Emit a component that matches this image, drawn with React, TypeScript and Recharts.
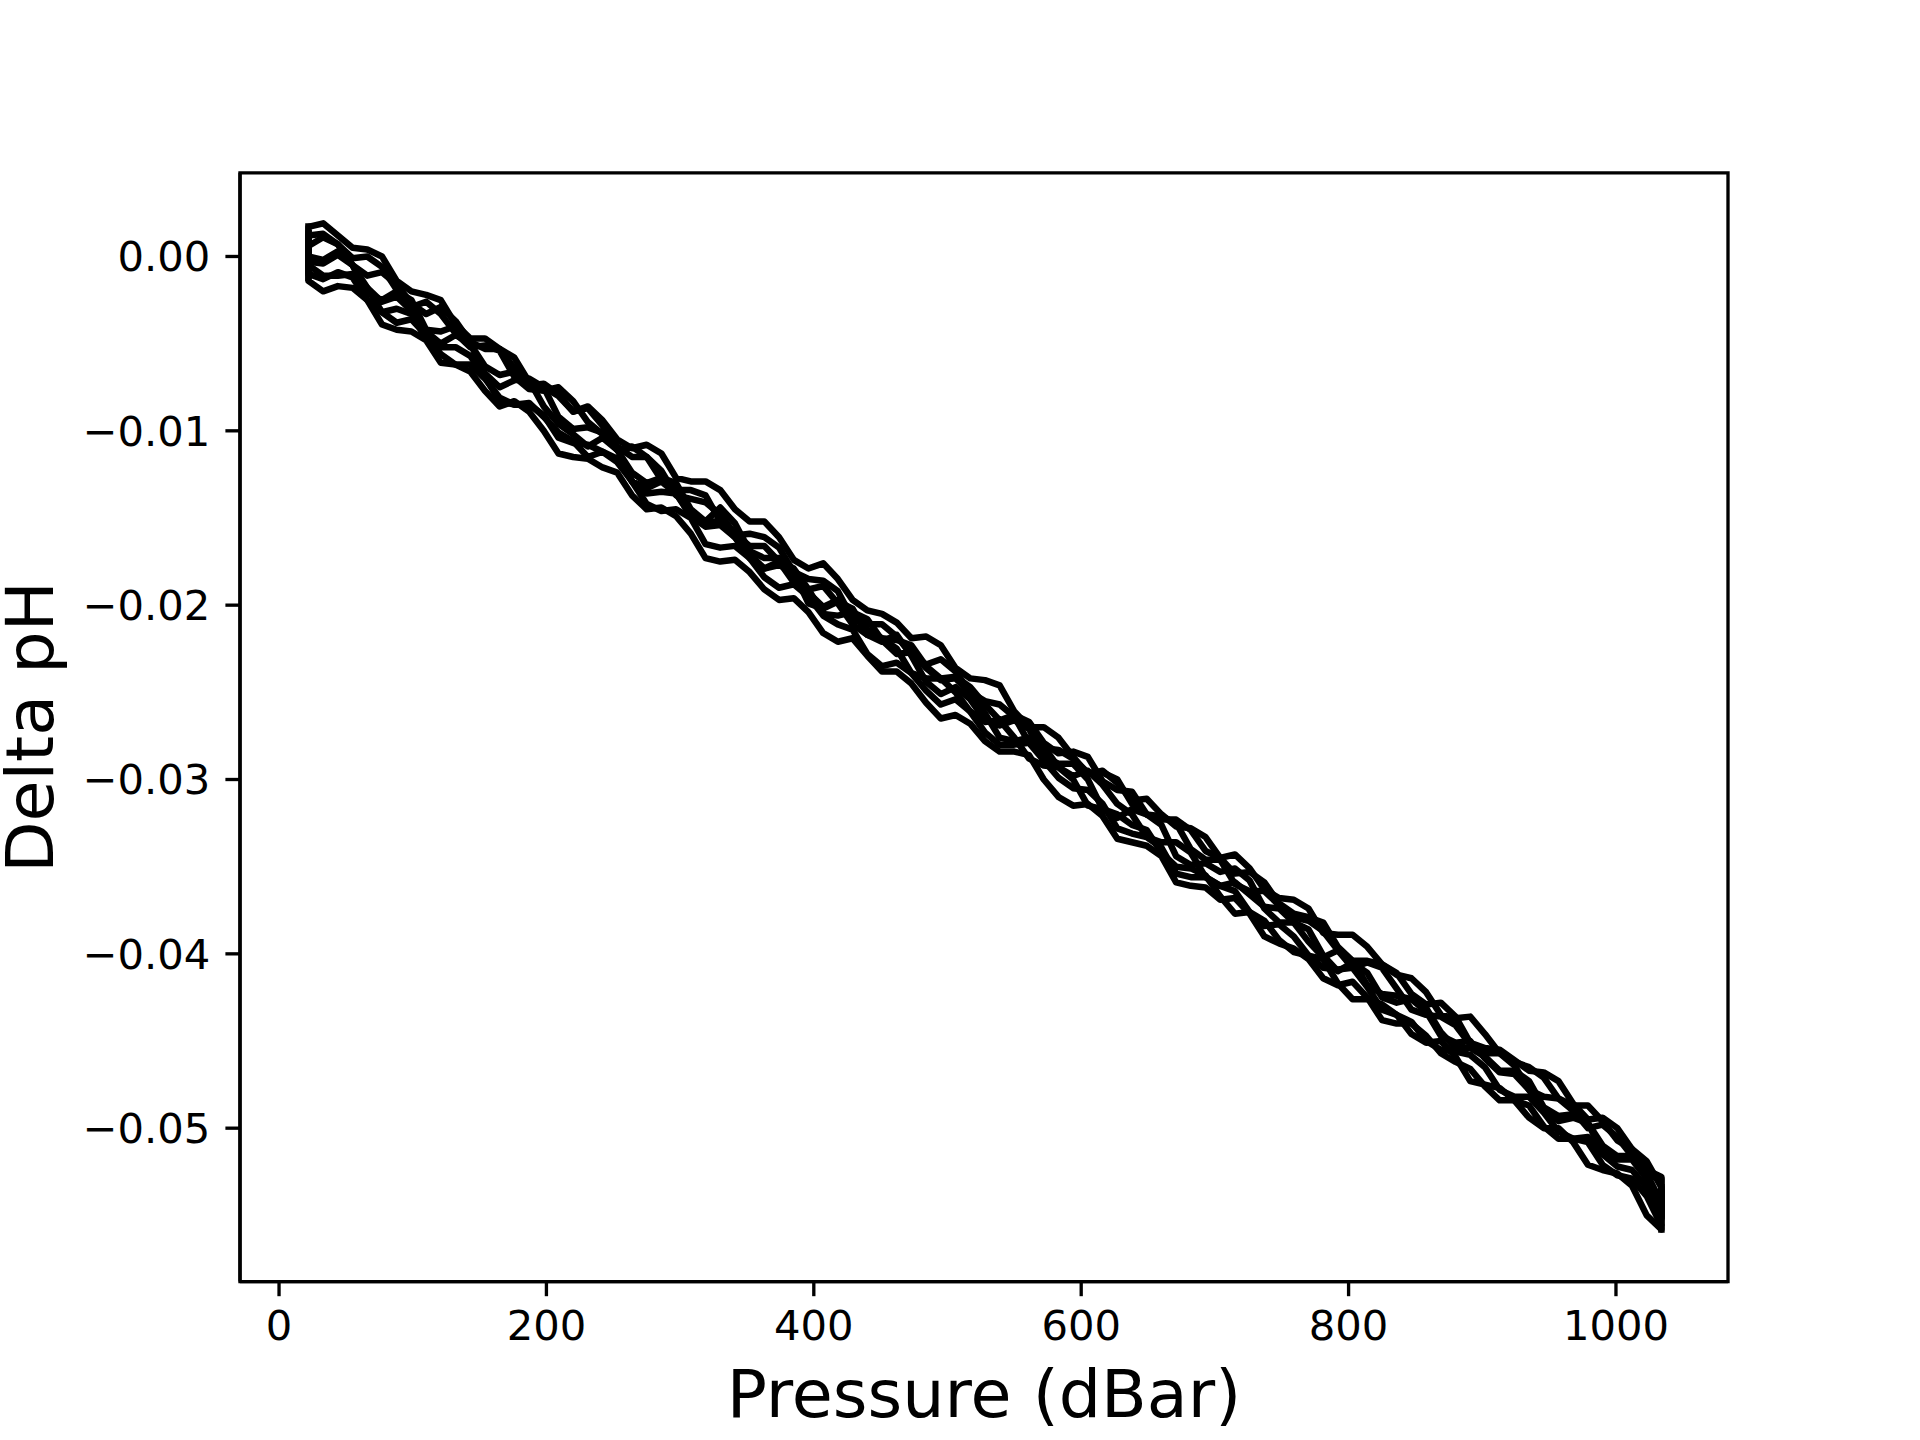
import { LineChart, Line, XAxis, YAxis, ReferenceArea } from "recharts";

// pressure levels (dBar): main grid and the levels half-way between
const PRESSURE = [
  22, 44, 66, 88, 110, 132, 154, 176, 198, 220, 242, 264, 286, 308, 330, 352,
  374, 396, 418, 440, 462, 484, 506, 528, 550, 572, 594, 616, 638, 660, 682,
  704, 726, 748, 770, 792, 814, 836, 858, 880, 902, 924, 946, 968, 990, 1012, 1034,
];
const MID_PRESSURE = [
  33, 55, 77, 99, 121, 143, 165, 187, 209, 231, 253, 275, 297, 319, 341, 363,
  385, 407, 429, 451, 473, 495, 517, 539, 561, 583, 605, 627, 649, 671, 693,
  715, 737, 759, 781, 803, 825, 847, 869, 891, 913, 935, 957, 979, 1001, 1023,
];

// delta pH for each profile on PRESSURE
const PROFILE_1 = [
  0.0006, 0.0007, -0.0011, -0.0016, -0.0033, -0.0037, -0.0053, -0.0058, -0.0075, -0.0089,
  -0.0094, -0.0110, -0.0113, -0.0129, -0.0134, -0.0152, -0.0161, -0.0179, -0.0185, -0.0203,
  -0.0210, -0.0218, -0.0236, -0.0243, -0.0261, -0.0270, -0.0287, -0.0295, -0.0312, -0.0320,
  -0.0328, -0.0345, -0.0353, -0.0371, -0.0379, -0.0396, -0.0404, -0.0411, -0.0429, -0.0436,
  -0.0454, -0.0461, -0.0468, -0.0486, -0.0494, -0.0512, -0.0528,
];
const PROFILE_2 = [
  -0.0005, -0.0011, -0.0018, -0.0038, -0.0045, -0.0062, -0.0077, -0.0083, -0.0100, -0.0115,
  -0.0121, -0.0137, -0.0144, -0.0159, -0.0175, -0.0181, -0.0197, -0.0204, -0.0221, -0.0229,
  -0.0238, -0.0256, -0.0263, -0.0278, -0.0284, -0.0300, -0.0315, -0.0321, -0.0336, -0.0344,
  -0.0361, -0.0369, -0.0377, -0.0394, -0.0403, -0.0418, -0.0425, -0.0440, -0.0447, -0.0462,
  -0.0476, -0.0484, -0.0499, -0.0506, -0.0521, -0.0529, -0.0556,
];
const PROFILE_3 = [
  0.0000, 0.0003, -0.0018, -0.0023, -0.0043, -0.0045, -0.0063, -0.0066, -0.0086, -0.0102,
  -0.0104, -0.0124, -0.0127, -0.0145, -0.0152, -0.0173, -0.0175, -0.0191, -0.0206, -0.0208,
  -0.0228, -0.0236, -0.0242, -0.0262, -0.0278, -0.0281, -0.0298, -0.0303, -0.0320, -0.0336,
  -0.0342, -0.0361, -0.0366, -0.0374, -0.0393, -0.0398, -0.0418, -0.0424, -0.0433, -0.0451,
  -0.0460, -0.0469, -0.0490, -0.0494, -0.0510, -0.0516, -0.0543,
];
const PROFILE_4 = [
  0.0012, 0.0007, 0.0000, -0.0019, -0.0026, -0.0044, -0.0051, -0.0069, -0.0077, -0.0083,
  -0.0102, -0.0109, -0.0128, -0.0134, -0.0152, -0.0159, -0.0167, -0.0185, -0.0192, -0.0211,
  -0.0218, -0.0234, -0.0238, -0.0255, -0.0264, -0.0282, -0.0288, -0.0296, -0.0314, -0.0321,
  -0.0340, -0.0346, -0.0364, -0.0372, -0.0381, -0.0398, -0.0405, -0.0420, -0.0435, -0.0441,
  -0.0457, -0.0464, -0.0482, -0.0490, -0.0498, -0.0516, -0.0529,
];
const PROFILE_5 = [
  -0.0010, -0.0009, -0.0025, -0.0030, -0.0047, -0.0052, -0.0069, -0.0085, -0.0091, -0.0107,
  -0.0112, -0.0129, -0.0146, -0.0150, -0.0167, -0.0173, -0.0190, -0.0195, -0.0211, -0.0228,
  -0.0233, -0.0249, -0.0254, -0.0273, -0.0280, -0.0289, -0.0305, -0.0314, -0.0331, -0.0339,
  -0.0356, -0.0361, -0.0376, -0.0383, -0.0401, -0.0409, -0.0419, -0.0435, -0.0450, -0.0456,
  -0.0465, -0.0482, -0.0491, -0.0506, -0.0515, -0.0524, -0.0552,
];
const PROFILE_6 = [
  -0.0014, -0.0017, -0.0025, -0.0042, -0.0048, -0.0062, -0.0070, -0.0085, -0.0092, -0.0106,
  -0.0112, -0.0129, -0.0135, -0.0149, -0.0154, -0.0171, -0.0177, -0.0193, -0.0197, -0.0214,
  -0.0220, -0.0235, -0.0241, -0.0257, -0.0263, -0.0279, -0.0284, -0.0301, -0.0307, -0.0323,
  -0.0329, -0.0345, -0.0351, -0.0368, -0.0374, -0.0389, -0.0396, -0.0412, -0.0422, -0.0437,
  -0.0446, -0.0462, -0.0471, -0.0487, -0.0496, -0.0512, -0.0534,
];
const PROFILE_7 = [
  0.0017, 0.0012, 0.0004, -0.0014, -0.0022, -0.0039, -0.0047, -0.0064, -0.0073, -0.0089,
  -0.0097, -0.0115, -0.0123, -0.0139, -0.0148, -0.0166, -0.0175, -0.0191, -0.0199, -0.0217,
  -0.0225, -0.0242, -0.0250, -0.0267, -0.0276, -0.0292, -0.0300, -0.0317, -0.0326, -0.0342,
  -0.0351, -0.0367, -0.0376, -0.0392, -0.0401, -0.0417, -0.0426, -0.0435, -0.0451, -0.0459,
  -0.0475, -0.0484, -0.0500, -0.0508, -0.0524, -0.0533, -0.0558,
];
const PROFILE_8 = [
  -0.0003, 0.0001, -0.0021, -0.0020, -0.0042, -0.0040, -0.0067, -0.0071, -0.0075, -0.0099,
  -0.0101, -0.0129, -0.0129, -0.0148, -0.0144, -0.0169, -0.0173, -0.0199, -0.0198, -0.0217,
  -0.0217, -0.0244, -0.0247, -0.0266, -0.0266, -0.0287, -0.0291, -0.0317, -0.0317, -0.0326,
  -0.0349, -0.0353, -0.0358, -0.0382, -0.0386, -0.0410, -0.0411, -0.0428, -0.0431, -0.0454,
  -0.0459, -0.0467, -0.0488, -0.0492, -0.0514, -0.0518, -0.0547,
];

// delta pH for each profile on MID_PRESSURE
const PROFILE_1_MID = [
  0.0011, -0.0005, -0.0009, -0.0027, -0.0029, -0.0049, -0.0053, -0.0072, -0.0080, -0.0086,
  -0.0105, -0.0108, -0.0127, -0.0129, -0.0145, -0.0152, -0.0174, -0.0176, -0.0197, -0.0205,
  -0.0219, -0.0223, -0.0242, -0.0246, -0.0270, -0.0276, -0.0297, -0.0302, -0.0311, -0.0327,
  -0.0333, -0.0354, -0.0359, -0.0377, -0.0382, -0.0404, -0.0406, -0.0423, -0.0428, -0.0451,
  -0.0455, -0.0467, -0.0473, -0.0495, -0.0500, -0.0524,
];
const PROFILE_2_MID = [
  -0.0011, -0.0010, -0.0032, -0.0036, -0.0056, -0.0066, -0.0086, -0.0089, -0.0113, -0.0116,
  -0.0124, -0.0145, -0.0149, -0.0173, -0.0174, -0.0191, -0.0196, -0.0216, -0.0219, -0.0238,
  -0.0245, -0.0265, -0.0268, -0.0284, -0.0286, -0.0310, -0.0314, -0.0334, -0.0338, -0.0359,
  -0.0362, -0.0368, -0.0390, -0.0397, -0.0414, -0.0416, -0.0438, -0.0440, -0.0457, -0.0466,
  -0.0484, -0.0487, -0.0506, -0.0508, -0.0527, -0.0539,
];
const PROFILE_3_MID = [
  -0.0002, -0.0005, -0.0026, -0.0031, -0.0050, -0.0050, -0.0068, -0.0071, -0.0096, -0.0109,
  -0.0111, -0.0130, -0.0130, -0.0152, -0.0161, -0.0179, -0.0179, -0.0205, -0.0204, -0.0220,
  -0.0227, -0.0243, -0.0250, -0.0276, -0.0276, -0.0293, -0.0295, -0.0314, -0.0333, -0.0336,
  -0.0356, -0.0359, -0.0373, -0.0382, -0.0402, -0.0404, -0.0423, -0.0426, -0.0447, -0.0450,
  -0.0468, -0.0478, -0.0496, -0.0497, -0.0516, -0.0526,
];
const PROFILE_4_MID = [
  0.0013, -0.0001, -0.0006, -0.0029, -0.0033, -0.0052, -0.0054, -0.0076, -0.0075, -0.0095,
  -0.0111, -0.0115, -0.0134, -0.0137, -0.0160, -0.0161, -0.0181, -0.0186, -0.0208, -0.0211,
  -0.0228, -0.0231, -0.0250, -0.0257, -0.0279, -0.0283, -0.0296, -0.0300, -0.0320, -0.0325,
  -0.0346, -0.0360, -0.0364, -0.0379, -0.0387, -0.0408, -0.0408, -0.0432, -0.0436, -0.0452,
  -0.0457, -0.0478, -0.0483, -0.0500, -0.0505, -0.0527,
];
const PROFILE_5_MID = [
  -0.0013, -0.0012, -0.0032, -0.0033, -0.0052, -0.0057, -0.0083, -0.0085, -0.0104, -0.0108,
  -0.0116, -0.0142, -0.0145, -0.0165, -0.0166, -0.0184, -0.0188, -0.0206, -0.0214, -0.0235,
  -0.0239, -0.0257, -0.0261, -0.0280, -0.0279, -0.0299, -0.0306, -0.0328, -0.0333, -0.0354,
  -0.0356, -0.0364, -0.0384, -0.0390, -0.0408, -0.0408, -0.0432, -0.0439, -0.0455, -0.0458,
  -0.0478, -0.0482, -0.0502, -0.0505, -0.0522, -0.0534,
];
const PROFILE_6_MID = [
  -0.0020, -0.0018, -0.0039, -0.0043, -0.0061, -0.0062, -0.0081, -0.0084, -0.0101, -0.0115,
  -0.0118, -0.0136, -0.0136, -0.0155, -0.0161, -0.0179, -0.0181, -0.0201, -0.0203, -0.0219,
  -0.0223, -0.0242, -0.0247, -0.0266, -0.0267, -0.0285, -0.0287, -0.0306, -0.0320, -0.0323,
  -0.0341, -0.0343, -0.0363, -0.0369, -0.0388, -0.0389, -0.0406, -0.0414, -0.0435, -0.0436,
  -0.0457, -0.0465, -0.0483, -0.0487, -0.0507, -0.0519,
];
const PROFILE_7_MID = [
  0.0019, 0.0005, 0.0000, -0.0020, -0.0025, -0.0047, -0.0053, -0.0074, -0.0079, -0.0087,
  -0.0109, -0.0115, -0.0137, -0.0141, -0.0159, -0.0166, -0.0187, -0.0189, -0.0211, -0.0219,
  -0.0239, -0.0242, -0.0261, -0.0266, -0.0288, -0.0293, -0.0315, -0.0320, -0.0329, -0.0350,
  -0.0355, -0.0377, -0.0381, -0.0399, -0.0403, -0.0426, -0.0429, -0.0446, -0.0450, -0.0473,
  -0.0477, -0.0494, -0.0500, -0.0521, -0.0526, -0.0550,
];
const PROFILE_8_MID = [
  -0.0004, -0.0005, -0.0025, -0.0025, -0.0043, -0.0050, -0.0075, -0.0070, -0.0092, -0.0098,
  -0.0110, -0.0133, -0.0136, -0.0152, -0.0153, -0.0173, -0.0181, -0.0202, -0.0202, -0.0221,
  -0.0229, -0.0251, -0.0254, -0.0269, -0.0271, -0.0291, -0.0300, -0.0322, -0.0320, -0.0344,
  -0.0348, -0.0351, -0.0374, -0.0382, -0.0401, -0.0405, -0.0425, -0.0426, -0.0445, -0.0454,
  -0.0467, -0.0473, -0.0493, -0.0497, -0.0518, -0.0529,
];

// first reading at the surface and last reading at the bottom (vertical spikes at both ends)
const START_SPIKE = [0.0019, -0.0014, 0.0012, -0.001, 0.0008, 0.0005, -0.0005, 0.0015];
const END_SPIKE = [-0.0545, -0.056, -0.0532, -0.0556, -0.0538, -0.0552, -0.0543, -0.0535];

const X_TICKS = [0, 200, 400, 600, 800, 1000];
const Y_TICKS = [-0.05, -0.04, -0.03, -0.02, -0.01, 0];
const X_DOMAIN = [-29.2, 1083.8];
const Y_DOMAIN = [-0.0588, 0.0048];

const PROFILES = [
  [PROFILE_1, PROFILE_1_MID], [PROFILE_2, PROFILE_2_MID], [PROFILE_3, PROFILE_3_MID],
  [PROFILE_4, PROFILE_4_MID], [PROFILE_5, PROFILE_5_MID], [PROFILE_6, PROFILE_6_MID],
  [PROFILE_7, PROFILE_7_MID], [PROFILE_8, PROFILE_8_MID],
];

const FONT = "'DejaVu Sans', sans-serif";
const AXIS_W = 3.33;
const TICK_LEN = 14.6;

// merge the two pressure grids in depth order, with the spikes at both ends
function buildPoints(main: number[], mid: number[], i: number) {
  const pts = [{ p: PRESSURE[0], v: START_SPIKE[i] }];
  main.forEach((v, k) => {
    pts.push({ p: PRESSURE[k], v });
    if (k < mid.length) pts.push({ p: MID_PRESSURE[k], v: mid[k] });
  });
  pts.push({ p: PRESSURE[PRESSURE.length - 1], v: END_SPIKE[i] });
  return pts;
}

const fmtY = (v: number) => (v === 0 ? "0.00" : (v < 0 ? "\u2212" : "") + Math.abs(v).toFixed(2));

export default function App() {
  const tickStyle = { fontSize: 41.7, fill: "#000", fontFamily: FONT };
  return (
    <div style={{ position: "absolute", left: 0, top: 0, width: 1920, height: 1440, background: "#fff" }}>
      <LineChart width={1920} height={1440} margin={{ top: 172.8, right: 192, bottom: 98.4, left: 90 }}>
        <XAxis
          dataKey="p" type="number" domain={X_DOMAIN} allowDataOverflow ticks={X_TICKS}
          height={60} tick={tickStyle} tickSize={TICK_LEN} tickMargin={14}
          axisLine={{ stroke: "#000", strokeWidth: AXIS_W }}
          tickLine={{ stroke: "#000", strokeWidth: AXIS_W }}
        />
        <YAxis
          type="number" domain={Y_DOMAIN} allowDataOverflow ticks={Y_TICKS}
          width={150} tick={tickStyle} tickSize={TICK_LEN} tickMargin={15} tickFormatter={fmtY}
          axisLine={{ stroke: "#000", strokeWidth: AXIS_W }}
          tickLine={{ stroke: "#000", strokeWidth: AXIS_W }}
        />
        {PROFILES.map(([main, mid], i) => (
          <Line
            key={i}
            data={buildPoints(main, mid, i)}
            dataKey="v"
            type="linear"
            stroke="#000"
            strokeWidth={6.5}
            strokeLinejoin="round"
            dot={false}
            activeDot={false}
            isAnimationActive={false}
          />
        ))}
        {/* axes frame */}
        <ReferenceArea
          x1={X_DOMAIN[0]} x2={X_DOMAIN[1]} y1={Y_DOMAIN[0]} y2={Y_DOMAIN[1]}
          fill="none" fillOpacity={0} stroke="#000" strokeWidth={AXIS_W} ifOverflow="visible"
        />
      </LineChart>
      <svg width={1920} height={1440} style={{ position: "absolute", left: 0, top: 0, pointerEvents: "none" }}>
        <text x={984} y={1417} textAnchor="middle" fontSize={66.7} fontFamily={FONT} fill="#000">
          Pressure (dBar)
        </text>
        <text
          x={0} y={0} transform="translate(53,727) rotate(-90)" textAnchor="middle"
          fontSize={66.7} fontFamily={FONT} fill="#000"
        >
          Delta pH
        </text>
      </svg>
    </div>
  );
}
